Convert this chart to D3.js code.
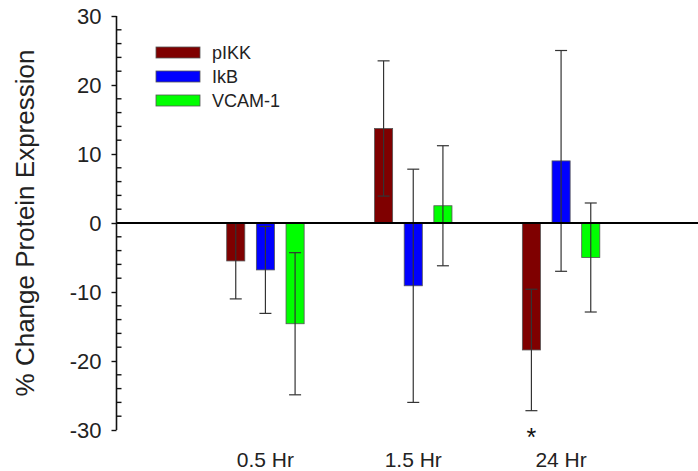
<!DOCTYPE html>
<html>
<head>
<meta charset="utf-8">
<script src="https://cdn.jsdelivr.net/npm/d3@7"></script>
<style>
  body { margin: 0; background: #fff; }
  svg { display: block; font-family: "Liberation Sans", Arial, sans-serif; }
</style>
</head>
<body>
<div id="chart"></div>
<script>
// data
const times = ["0.5 Hr", "1.5 Hr", "24 Hr"];
const seriesNames = ["pIKK", "IkB", "VCAM-1"];
const seriesColors = ["#7f0000", "#0000ff", "#00ff00"];
const pikkMean = [-5.5, 13.7, -18.4];
const pikkErr = [5.5, 9.8, 8.8];
const ikbMean = [-6.8, -9.1, 9.0];
const ikbErr = [6.3, 16.9, 16.0];
const vcamMean = [-14.6, 2.5, -5.0];
const vcamErr = [10.3, 8.7, 7.9];
const yTicks = [-30, -20, -10, 0, 10, 20, 30];
const significant = [{ time: "24 Hr", series: "pIKK", label: "*" }];

const means = [pikkMean, ikbMean, vcamMean];
const errs = [pikkErr, ikbErr, vcamErr];

// flatten into rows for binding
let rows = [];
seriesNames.forEach((s, i) => {
  times.forEach((t, j) => {
    rows.push({ series: s, time: t, mean: means[i][j], err: errs[i][j], color: seriesColors[i] });
  });
});

const width = 698, height = 471;
const axisX = 116.5;

const svg = d3.select("#chart").append("svg")
  .attr("width", width)
  .attr("height", height);

const y = d3.scaleLinear().domain([-30, 30]).range([430, 16]);

// group scale, then bar offset within each group
const x0 = d3.scaleBand().domain(times).range([191.5, 635]).padding(0);
const x1 = d3.scaleBand().domain(seriesNames).range([-40.5, 40.5])
  .paddingInner(0.39).paddingOuter(0.06);

const center = (d) => x0(d.time) + x0.bandwidth() / 2;

// bars
svg.append("g")
  .selectAll("rect")
  .data(rows)
  .enter()
  .append("rect")
  .attr("x", (d) => center(d) + x1(d.series))
  .attr("y", (d) => y(Math.max(0, d.mean)))
  .attr("width", x1.bandwidth())
  .attr("height", (d) => Math.abs(y(d.mean) - y(0)))
  .attr("fill", (d) => d.color)
  .attr("stroke", "#555")
  .attr("stroke-width", 0.8);

// error bars
const capW = 6;
const eb = svg.append("g")
  .attr("stroke", "#333")
  .attr("stroke-width", 1.2)
  .selectAll("g")
  .data(rows)
  .enter()
  .append("g")
  .attr("transform", (d) => `translate(${center(d) + x1(d.series) + x1.bandwidth() / 2},0)`);
eb.append("line")
  .attr("y1", (d) => y(d.mean + d.err))
  .attr("y2", (d) => y(d.mean - d.err));
eb.append("line")
  .attr("x1", -capW).attr("x2", capW)
  .attr("y1", (d) => y(d.mean + d.err))
  .attr("y2", (d) => y(d.mean + d.err));
eb.append("line")
  .attr("x1", -capW).attr("x2", capW)
  .attr("y1", (d) => y(d.mean - d.err))
  .attr("y2", (d) => y(d.mean - d.err));

// zero line
svg.append("line")
  .attr("x1", axisX).attr("x2", width)
  .attr("y1", y(0)).attr("y2", y(0))
  .attr("stroke", "#000")
  .attr("stroke-width", 2);

// y axis: major ticks outside, minor ticks inside
const yAxis = d3.axisLeft(y).tickValues(yTicks).tickSize(5).tickPadding(10).tickFormat((d) => String(d));
const gy = svg.append("g")
  .attr("transform", `translate(${axisX},0)`)
  .call(yAxis);
gy.select(".domain").attr("d", `M0,${y(30)}V${y(-30)}`).attr("stroke", "#111").attr("stroke-width", 1.6);
gy.selectAll(".tick line").attr("stroke", "#111").attr("stroke-width", 1.4);
gy.selectAll(".tick text")
  .attr("fill", "#222")
  .style("font-size", "22px")
  .style("font-family", "Liberation Sans, Arial, sans-serif");

const minor = d3.range(-30, 31, 2).filter((v) => v % 10 !== 0);
svg.append("g")
  .selectAll("line")
  .data(minor)
  .enter()
  .append("line")
  .attr("x1", axisX).attr("x2", axisX + 5)
  .attr("y1", (d) => y(d)).attr("y2", (d) => y(d))
  .attr("stroke", "#111")
  .attr("stroke-width", 1.4);

// y axis title
svg.append("text")
  .attr("transform", `translate(34,${(y(30) + y(-30)) / 2}) rotate(-90)`)
  .attr("text-anchor", "middle")
  .attr("fill", "#222")
  .style("font-size", "26px")
  .text("% Change Protein Expression");

// category labels
svg.append("g")
  .selectAll("text")
  .data(times)
  .enter()
  .append("text")
  .attr("x", (d) => x0(d) + x0.bandwidth() / 2)
  .attr("y", 467)
  .attr("text-anchor", "middle")
  .attr("fill", "#222")
  .style("font-size", "21px")
  .text((d) => d);

// significance marks
svg.append("g")
  .selectAll("text")
  .data(significant)
  .enter()
  .append("text")
  .attr("x", (d) => x0(d.time) + x0.bandwidth() / 2 + x1(d.series) + x1.bandwidth() / 2)
  .attr("y", 446)
  .attr("text-anchor", "middle")
  .attr("fill", "#111")
  .style("font-size", "25px")
  .text((d) => d.label);

// legend
const legend = svg.append("g").attr("transform", "translate(156,47)");
const li = legend.selectAll("g")
  .data(seriesNames)
  .enter()
  .append("g")
  .attr("transform", (d, i) => `translate(0,${i * 24})`);
li.append("rect")
  .attr("width", 44)
  .attr("height", 11)
  .attr("fill", (d, i) => seriesColors[i])
  .attr("stroke", "#555")
  .attr("stroke-width", 0.8);
li.append("text")
  .attr("x", 56)
  .attr("y", 12)
  .attr("fill", "#222")
  .style("font-size", "18px")
  .text((d) => d);
</script>
</body>
</html>
